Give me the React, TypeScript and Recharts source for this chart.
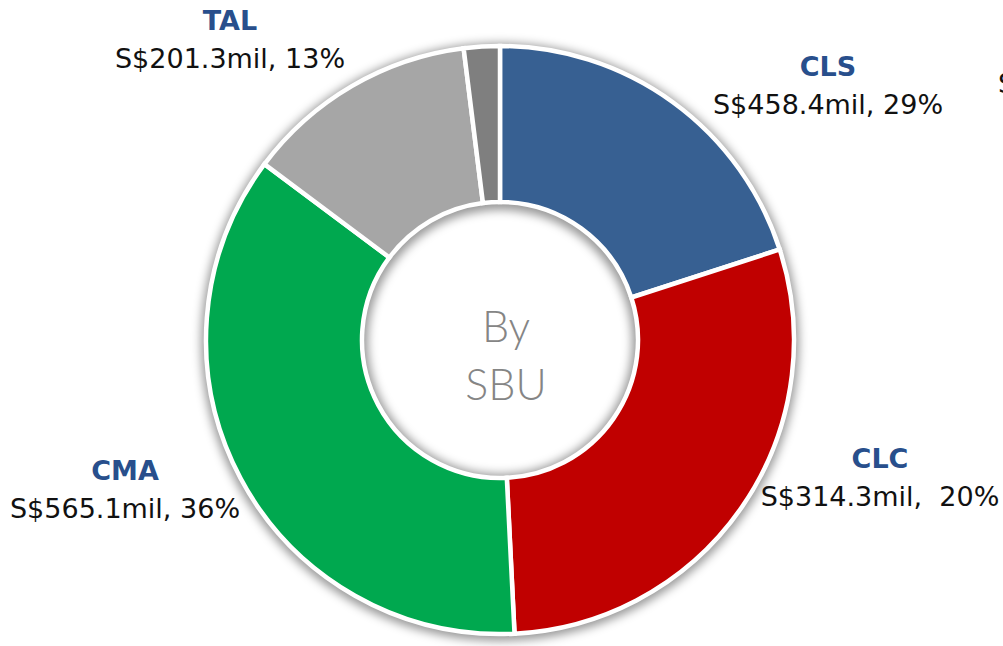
import React from 'react';
import { PieChart, Pie, Cell, Label } from 'recharts';

// ---- data ----
const categories = ['CLS', 'CLC', 'CMA', 'TAL', 'Others'];
const sliceValues = [314.3, 458.4, 565.1, 201.3, 31];
const labelTexts = ['S$458.4mil, 29%', 'S$314.3mil,  20%', 'S$565.1mil, 36%', 'S$201.3mil, 13%', ''];
const centerLines = ['By', 'SBU'];

const colors = ['#376092', '#C00000', '#00A84F', '#A6A6A6', '#7F7F7F'];

const data = categories.map((name, i) => ({ name, value: sliceValues[i], text: labelTexts[i] }));
const ring = [{ name: 'ring', value: 1 }];

// label layout (offset from pie centre: label centre x, title baseline y)
const LABEL_OFFSET: Record<string, [number, number]> = {
  CLS: [328, -264],
  CLC: [380, 128],
  CMA: [-375, 140],
  TAL: [-270, -310],
};

const CX = 500;
const CY = 340;
const FONT = '"DejaVu Sans", sans-serif';

const renderLabel = (props: any) => {
  const name = props.name ?? props.payload?.name;
  const off = LABEL_OFFSET[name];
  if (!off) return null;
  const cx = props.cx ?? CX;
  const cy = props.cy ?? CY;
  const x = cx + off[0];
  const y = cy + off[1];
  const text = props.payload?.text ?? labelTexts[props.index];
  return (
    <g key={`lbl-${name}`}>
      <text x={x} y={y} textAnchor="middle" fontFamily={FONT} fontWeight="bold" fontSize={27} fill="#284F8C">
        {name}
      </text>
      <text x={x} y={y + 38} textAnchor="middle" fontFamily={FONT} fontSize={27} fill="#111" style={{ whiteSpace: 'pre' }}>
        {text}
      </text>
    </g>
  );
};

const CenterText = (props: any) => {
  const vb = props.viewBox || {};
  const cx = vb.cx ?? CX;
  const cy = vb.cy ?? CY;
  return (
    <g>
      <text x={cx + 6} y={cy + 2} textAnchor="middle" fontFamily='Lato, "Open Sans", sans-serif' fontWeight={300} fontSize={43} fill="#858585">
        {centerLines[0]}
      </text>
      <text x={cx + 6} y={cy + 60} textAnchor="middle" fontFamily='Lato, "Open Sans", sans-serif' fontWeight={300} fontSize={43} fill="#858585">
        {centerLines[1]}
      </text>
      <text x={cx + 498} y={cy - 247} fontFamily={FONT} fontSize={27} fill="#111">
        S$
      </text>
    </g>
  );
};

export default function App() {
  return (
    <div style={{ position: 'absolute', left: 0, top: 0, width: 1003, height: 646, background: '#fff', overflow: 'hidden' }}>
      <style>{`.shadow-ring path { filter: blur(5px); }`}</style>
      <PieChart width={1003} height={646} margin={{ top: 0, right: 0, bottom: 0, left: 0 }}>
        <Pie
          className="shadow-ring"
          data={ring}
          dataKey="value"
          cx={CX}
          cy={CY + 2}
          innerRadius={132}
          outerRadius={299}
          startAngle={90}
          endAngle={-270}
          stroke="none"
          fill="#000"
          fillOpacity={0.4}
          isAnimationActive={false}
          label={false}
          labelLine={false}
        />
        <Pie
          data={data}
          dataKey="value"
          nameKey="name"
          cx={CX}
          cy={CY}
          innerRadius={138}
          outerRadius={294}
          startAngle={90}
          endAngle={-270}
          stroke="#fff"
          strokeWidth={4.5}
          isAnimationActive={false}
          labelLine={false}
          label={renderLabel}
        >
          {data.map((d, i) => (
            <Cell key={d.name} fill={colors[i]} stroke="#fff" strokeWidth={4.5} />
          ))}
          <Label position="center" content={<CenterText />} />
        </Pie>
      </PieChart>
    </div>
  );
}
